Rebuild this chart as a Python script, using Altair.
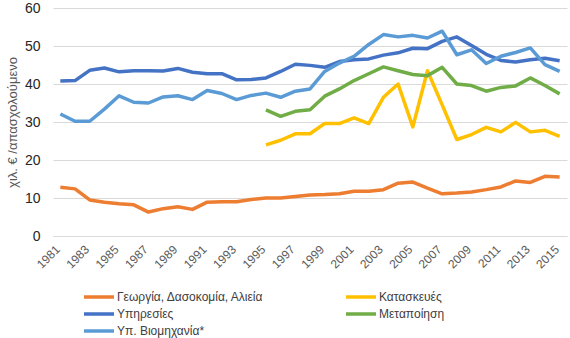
import altair as alt
import pandas as pd

years = list(range(1981, 2016))

series_names = [
    "Γεωργία, Δασοκομία, Αλιεία",
    "Κατασκευές",
    "Υπηρεσίες",
    "Μεταποίηση",
    "Υπ. Βιομηχανία*",
]
colors = ["#ED7D31", "#FFC000", "#4472C4", "#70AD47", "#5B9BD5"]

agri = [12.8, 12.4, 9.5, 8.9, 8.5, 8.2, 6.3, 7.2, 7.7, 7.0, 8.9, 9.0, 9.0, 9.6, 10.0,
        10.0, 10.4, 10.8, 10.9, 11.1, 11.8, 11.8, 12.2, 13.9, 14.2, 12.6, 11.1, 11.3,
        11.6, 12.2, 12.9, 14.5, 14.1, 15.7, 15.5]
constr = [None] * 14 + [24.0, 25.2, 26.9, 26.9, 29.6, 29.6, 31.1, 29.6, 36.5, 40.0,
                        28.7, 43.5, 34.5, 25.4, 26.7, 28.6, 27.4, 29.9, 27.4, 27.8, 26.2]
services = [40.8, 40.9, 43.6, 44.2, 43.2, 43.5, 43.5, 43.4, 44.1, 43.1, 42.7, 42.7,
            41.1, 41.2, 41.6, 43.3, 45.2, 44.9, 44.4, 45.9, 46.4, 46.6, 47.6, 48.2,
            49.4, 49.3, 51.2, 52.4, 50.1, 47.8, 46.2, 45.8, 46.4, 46.8, 46.1]
manuf = [None] * 14 + [33.2, 31.5, 32.8, 33.2, 36.8, 38.7, 40.9, 42.7, 44.5, 43.5,
                       42.5, 42.2, 44.4, 40.0, 39.6, 38.1, 39.1, 39.5, 41.6, 39.6, 37.4]
industry = [32.1, 30.2, 30.2, 33.4, 36.9, 35.2, 35.0, 36.6, 36.9, 35.9, 38.3, 37.5,
            35.9, 37.0, 37.6, 36.5, 38.1, 38.7, 43.3, 45.5, 47.3, 50.4, 53.0, 52.4,
            52.8, 52.1, 53.9, 47.7, 49.0, 45.4, 47.3, 48.3, 49.5, 45.1, 43.3]

x_ticks = list(range(1981, 2016, 2))
y_ticks = [0, 10, 20, 30, 40, 50, 60]

rows = []
for i, (name, vals) in enumerate(zip(series_names, [agri, constr, services, manuf, industry])):
    for yr, v in zip(years, vals):
        if v is not None:
            rows.append({"year": yr, "value": v, "series": name, "k": i})
df = pd.DataFrame(rows)

# Vega fills legend columns top-to-bottom; this order shows the entries row by row
legend_order = [series_names[0], series_names[2], series_names[4],
                series_names[1], series_names[3]]
legend_colors = [colors[series_names.index(n)] for n in legend_order]

FONT = "Liberation Sans"

chart = alt.Chart(df).mark_line(strokeWidth=3.5, strokeJoin="round").encode(
    x=alt.X("year:Q",
            scale=alt.Scale(domain=[1980.5, 2015.5], nice=False, zero=False),
            axis=alt.Axis(values=x_ticks, format="d", labelAngle=-45, grid=False,
                          ticks=False, domain=True, domainColor="#d9d9d9",
                          labelAlign="right", labelBaseline="middle",
                          labelColor="#595959", labelFontSize=12, labelFont=FONT,
                          labelPadding=11, labelOffset=-3, title=None)),
    y=alt.Y("value:Q",
            scale=alt.Scale(domain=[0, 60], nice=False),
            axis=alt.Axis(values=y_ticks, grid=True, gridColor="#d9d9d9",
                          ticks=False, domain=False, labelColor="#262626",
                          labelFontSize=14, labelFont=FONT, labelPadding=13,
                          title="χιλ. € /απασχολούμενο", titleFont=FONT,
                          titleFontSize=13, titleFontWeight="normal",
                          titleColor="#595959", titlePadding=5)),
    color=alt.Color("series:N",
                    scale=alt.Scale(domain=legend_order, range=legend_colors),
                    legend=alt.Legend(title=None, orient="none", legendX=39, legendY=282,
                                      columns=2, columnPadding=75, rowPadding=3,
                                      symbolType="M-3,0H3", symbolSize=100,
                                      symbolStrokeWidth=3.5, labelFont=FONT,
                                      labelFontSize=12, labelColor="#404040",
                                      labelOffset=11, padding=0)),
    order=alt.Order("k:Q"),
).properties(
    width=514, height=228,
    autosize=alt.AutoSizeParams(type="none"),
    padding={"left": 53, "top": 8, "right": 3, "bottom": 102},
).configure_view(stroke=None)

chart.save("out.html", embed_options={"renderer": "svg", "actions": False})
